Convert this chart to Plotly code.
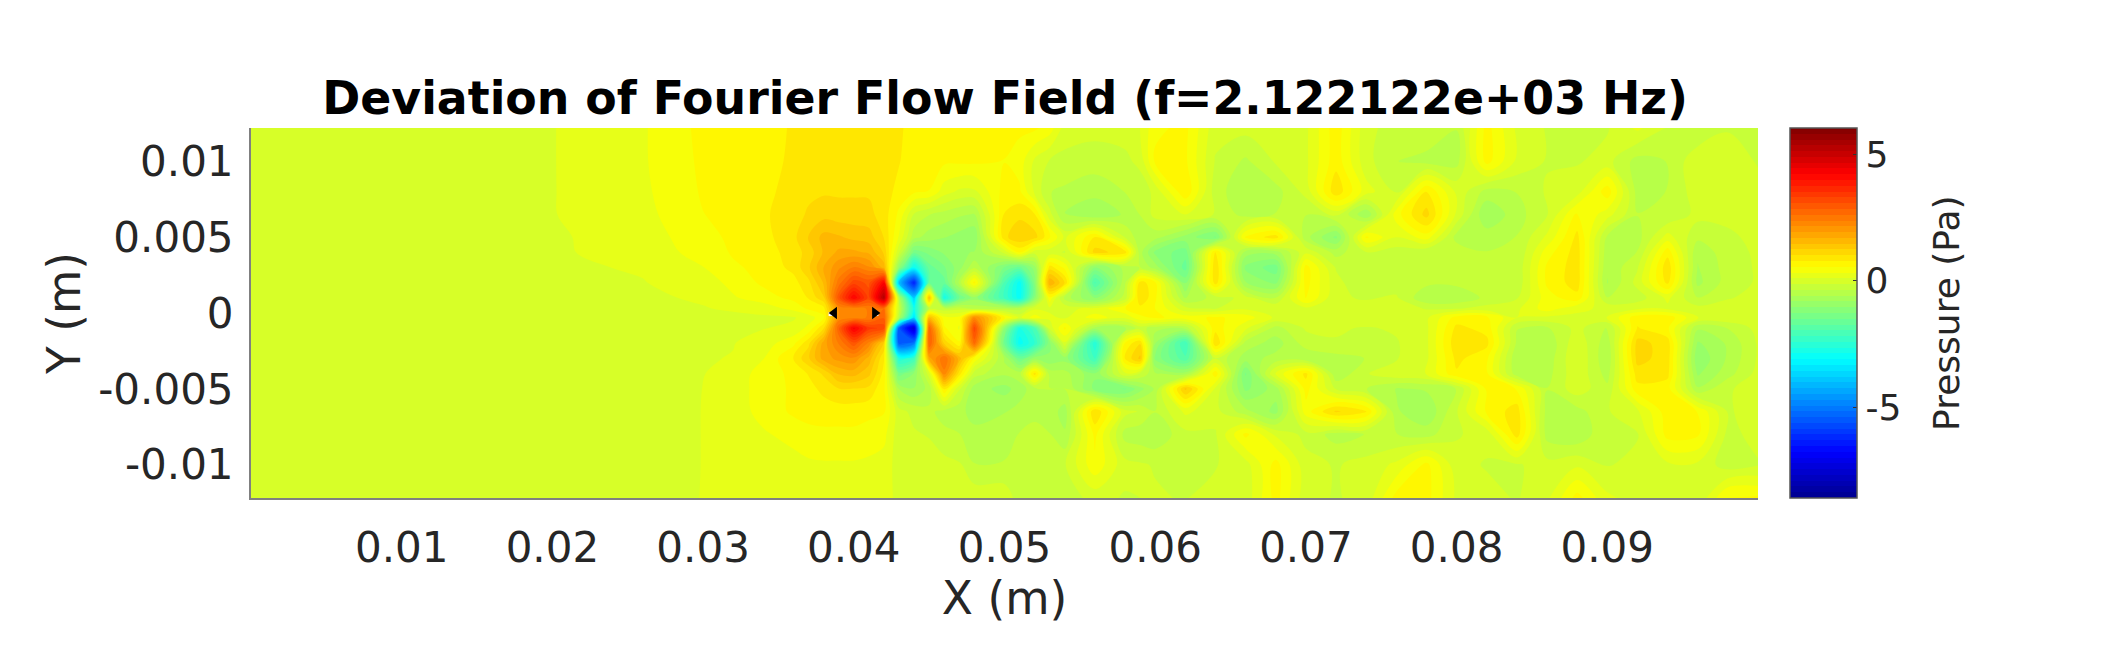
import plotly.graph_objects as go

x_near = [-.0002, .020, .026, .030, .032, .034, .036, .037, .038, .039, .040, .041, .042, .043, .044, .045, .046, .047]
x_mid = [.048, .050, .051, .052, .053, .054, .056, .058, .059, .060, .062]
x_far = [.064, .066, .068, .070, .072, .074, .076, .078, .080, .082, .084, .086, .088, .090, .092, .094, .096, .098, .100]
x_m = x_near + x_mid + x_far
y_m = [.0122, .0100, .0080, .0065, .0050, .0040, .0030, .0020, .0010, .0003,
       -.0003, -.0010, -.0020, -.0030, -.0040, -.0050, -.0065, -.0080, -.0100, -.0122]

row00 = [.05,.09,.3,.62,.62,.65,.82,.9,.9, .9,.9,.9,.9,.85,.62,.62,.62,.6,
         .6,.6,.6,.6,.45,0,-.05,0,.1,.5,.62,
         -.05,-.05,-.05,.05,.7,-.05,-.25,-.15,-.35,.65,.05,-.15,-.25,-.15,.15,-.15,-.35,-.15,-.15]
row01 = [.05,.09,.3,.6,.62,.65,.85,.95,.95, .95,.95,.95,.93,.8,.62,.62,.6,.6,
         .6,.55,.45,.05,-.15,-.2,-.25,-.2,-.05,.6,.6,
         -.15,-.4,-.1,.05,.7,-.05,-.35,-.45,-.45,.65,.05,-.15,-.15,-.05,-.45,-.35,.05,0,-.15]
row02 = [.05,.09,.28,.58,.62,.7,.9,.95,.98, .98,.98,.98,.9,.7,.6,.55,.2,.05,
         .05,.65,.6,.05,-.35,-.4,-.5,-.35,-.3,-.05,.75,
         -.25,-.55,-.45,-.05,.95,.2,-.15,.8,.05,-.45,-.35,-.1,0,.7,-.45,-.35,0,0,-.05]
row03 = [.05,.09,.25,.55,.62,.75,.9,1.05,1.15, 1.1,1.1,1.08,.9,.5,-.15,-.35,-.45,-.55,
         -.6,.8,.95,.8,-.05,-.6,-.8,-.55,-.35,-.05,.1,
         -.15,-.45,-.35,-.35,-.05,-.8,.45,1.1,.05,-.8,-.45,-.15,.6,.2,-.35,-.35,-.05,-.1,-.1]
row04 = [.05,.07,.2,.48,.6,.7,.95,1.25,1.55, 1.5,1.4,1.35,1.0,.3,-.5,-.7,-.8,-.9,
         -1,.95,1.2,1.1,.6,.05,.8,-.15,-.5,-.5,-.9,
         -1.3,.6,.9,-.5,-1.1,.6,.1,.45,-.45,-.45,-.35,.15,.85,-.4,-.45,.2,-.3,-.15,-.1]
row05 = [.05,.07,.18,.42,.58,.65,.9,1.1,1.5, 1.75,1.75,1.65,1.2,-.1,-1.4,-1.2,-1.0,-.85,
         -.8,-.05,.6,-.05,-.05,-.15,1.1,.9,-.5,-1.1,-1.4,
         .8,-.7,-.7,.05,-.45,-.15,-.25,-.35,-.2,-.35,-.35,.45,.9,-.5,-.35,.7,-.55,-.2,-.1]
row06 = [.05,.06,.12,.32,.52,.62,.85,1.2,1.7, 2.1,2.4,2.2,1.6,-1,-3.0,-1.6,-1.3,-.9,
         -.4,-1.3,-1.6,-.9,.9,.5,-1.1,-.5,-.35,-.7,-1.6,
         1.0,-1.1,-1.4,.65,-.15,-.25,-.25,-.25,-.2,-.3,-.3,.6,.9,-.55,-.15,.95,-.6,-.25,-.1]
row07 = [.05,.06,.09,.2,.4,.6,.7,.95,1.5, 2.5,3.2,3.0,4.2,-4,-6.3,-1.6,-1.6,-.5,
         .65,-2,-3,-1.2,1.7,1,-2,-.4,.9,.6,-1.1,
         .9,-.8,-1.1,.65,-.05,-.35,-.25,-.3,-.3,-.35,-.3,.6,.9,-.6,-.05,.85,-.65,-.25,-.1]
row08 = [.05,.05,.07,.12,.3,.45,.62,.8,1.2, 3,4.2,3.2,5.3,-.5,-3.8,1.5,-2.8,-1.5,
         -.9,-2.2,-3,-1.1,.5,-.45,-1.1,-.25,1,.6,-.6,
         -.25,-.05,-.35,.6,-.1,-.15,-.1,-.55,-.55,-.3,-.15,.45,.7,-.35,-.25,.15,-.35,-.15,-.05]
row09 = [.05,.05,.06,.09,.12,.2,.4,.6,.7, 2.2,2.3,2.4,2.6,-.2,-2.8,-.3,-.3,-.2,
         -.45,-.45,-.45,.05,.05,.05,.15,.55,.7,.55,-.05,
         -.15,.05,.05,.05,-.05,-.05,0,-.15,-.15,-.05,.05,.45,.15,.05,.05,.05,-.05,0,0]
row10 = [.05,.05,.05,.06,.06,.06,.08,.2,.5, 2.2,2.3,2.4,2.8,-.5,-3.5,1.5,.4,.4,
         2.2,.6,.05,.45,.15,.05,.45,.15,.5,.6,.45,
         .6,.45,.05,.05,.05,.05,-.05,.05,.65,.6,.1,.05,.05,.1,.7,.7,.1,.05,0]
row11 = [.05,.05,.05,.07,.07,.09,.15,.4,1, 2.8,4.3,3.4,3.2,-5.5,-7.5,2.8,.6,.3,
         3.2,-1,-2.7,-2,-.05,.6,-.7,-.6,-.25,-.5,-.5,
         .7,.15,-.45,-.1,-.1,-.15,-.1,.05,.85,.7,-.35,-.4,-.05,-.4,.8,.6,-.55,-.35,-.05]
row12 = [.05,.05,.05,.07,.09,.2,.5,.95,1.8, 2.4,3.0,2.3,1.2,-5.5,-5.0,2.9,1.2,.6,
         2.7,-1.5,-3,-2.4,-1.1,.05,-2.6,.6,1.0,-.8,-2.2,
         1.0,-.45,-.7,-.25,-.15,-.25,-.15,.05,.95,.85,-.4,-.55,.05,-.5,1.1,.9,-.85,-.55,-.1]
row13 = [.05,.05,.06,.08,.11,.32,.8,1.2,1.8, 2.0,2.1,1.6,.8,-2.6,-2.2,1.8,2.6,1.6,
         .5,-.6,-1.5,-.9,-1,-.9,-2.2,.8,1.3,-1.1,-1.9,
         -.15,-.7,-.5,-.55,-.45,-.35,-.15,.05,.85,.6,-.55,-.5,.1,-.55,1.1,.9,-1.0,-.55,-.1]
row14 = [.05,.05,.06,.09,.2,.42,.62,.8,1.05, 1.5,1.55,1.3,.7,-1.4,-1,0,2.3,.9,
         -.25,-.55,-.45,.9,-.45,-.5,-1,.05,-.15,-.55,-.7,
         .7,-1.3,.15,.85,-.55,-.15,.05,.1,.75,.6,-.5,-.45,.05,-.45,.9,.85,-.85,-.45,-.05]
row15 = [.05,.05,.06,.1,.22,.42,.6,.7,.85, 1.0,1.0,.95,.6,-.6,-.8,-.5,.8,-.1,
         -.7,-.9,-.7,-.45,-.35,-.35,-1.1,-1.3,-.9,-.55,1.3,
         .05,-1.1,-.7,.65,-.15,-.35,-.6,-.55,-.35,.6,.55,-.35,0,-.3,.7,.65,-.55,-.15,-.05]
row16 = [.05,.05,.07,.1,.22,.4,.6,.62,.66, .66,.66,.62,.58,-.05,-.2,-.3,-.45,-.5,
         -.7,-.6,-.5,-.45,-.45,-.7,1.0,-.05,-.15,-.35,.15,
         -.05,-.5,-.9,.45,1.05,.8,-.55,-.8,-.15,.6,.9,-.45,-.45,-.15,.05,.7,.55,-.15,-.05]
row17 = [.05,.05,.07,.1,.2,.3,.4,.5,.5, .5,.5,.45,.4,-.05,-.1,-.15,-.3,-.35,
         -.5,-.4,-.35,-.25,-.35,-.55,.62,-.45,-.5,-.55,-.2,
         -.15,.62,.05,-.2,-.45,-.35,-.35,-.45,-.15,-.05,.9,-.45,-.55,-.15,-.15,.65,.6,-.2,-.05]
row18 = [.05,.05,.07,.1,.18,.22,.25,.28,.3, .3,.3,.28,.22,0,0,0,-.05,-.1,
         -.35,-.35,-.3,-.25,-.2,-.15,.5,-.05,-.1,-.15,-.35,
         -.15,0,.65,-.05,-.15,-.05,.15,.62,-.05,-.15,-.15,-.05,.05,-.15,-.05,.05,.05,-.25,-.15]
row19 = [.05,.05,.08,.1,.14,.18,.2,.22,.22, .2,.2,.2,.2,.03,.03,.03,.03,.03,
         .03,.03,-.25,-.25,-.25,-.25,-.05,-.15,-.13,-.1,-.15,
         .05,-.05,.65,-.05,-.15,-.05,.65,.65,.05,-.05,-.15,.05,.65,.15,0,-.05,-.1,.6,.6]
rows = [row00,row01,row02,row03,row04,row05,row06,row07,row08,row09,
        row10,row11,row12,row13,row14,row15,row16,row17,row18,row19]

marker_x = [.0387, .0414]
marker_y = [0.0, 0.0]
white_x = [.03846, .0415]
white_y = [-.00007, -.00007]

x_ticks = [.01,.02,.03,.04,.05,.06,.07,.08,.09]
x_tick_text = ["0.01","0.02","0.03","0.04","0.05","0.06","0.07","0.08","0.09"]
y_ticks = [-.01,-.005,0,.005,.01]
y_tick_text = ["-0.01","-0.005","0","0.005","0.01"]
cb_ticks = [-5,0,5]
cb_tick_text = ["-5","0","5"]
z_min, z_max = -8.57, 6.03
jet = [[0,"rgb(0,0,143)"],[.125,"rgb(0,0,255)"],[.375,"rgb(0,255,255)"],[.625,"rgb(255,255,0)"],[.875,"rgb(255,0,0)"],[1,"rgb(128,0,0)"]]

FONT = "DejaVu Sans"
fig = go.Figure()
fig.add_trace(go.Contour(
    x=x_m, y=y_m, z=rows, zmin=z_min, zmax=z_max, colorscale=jet,
    contours=dict(coloring="fill", showlines=False, start=z_min, end=z_max, size=(z_max-z_min)/64),
    line=dict(width=0), hoverinfo="skip",
    colorbar=dict(thickness=67, len=1, lenmode="fraction", x=1.0212, xanchor="left", y=0.5, yanchor="middle",
                  xpad=0, ypad=0, outlinecolor="#555555", outlinewidth=1.5,
                  tickvals=cb_ticks, ticktext=cb_tick_text, ticks="inside", ticklen=4, tickcolor="#333333",
                  tickfont=dict(family=FONT, size=36, color="#262626")),
))
fig.add_trace(go.Scatter(x=white_x, y=white_y, mode="markers", showlegend=False, hoverinfo="skip",
                         marker=dict(symbol="square", size=4, color="white")))
fig.add_trace(go.Scatter(x=marker_x, y=marker_y, mode="markers", showlegend=False, hoverinfo="skip",
                         marker=dict(symbol=["triangle-left","triangle-right"], size=11, color="black")))
fig.add_annotation(text="Pressure (Pa)", xref="paper", yref="paper", x=1.1247, y=0.5, textangle=-90,
                   showarrow=False, xanchor="center", yanchor="middle",
                   font=dict(family=FONT, size=36, color="#262626"))
fig.update_layout(
    width=2126, height=650, autosize=False, paper_bgcolor="white", plot_bgcolor="white",
    margin=dict(l=243, r=376, t=120, b=160), showlegend=False,
    title=dict(text="<b>Deviation of Fourier Flow Field (f=2.122122e+03 Hz)</b>", x=0.469, xanchor="center",
               y=1-90/650, yref="container", yanchor="middle", font=dict(family=FONT, size=45.8, color="black")),
    xaxis=dict(range=[0,.1], tickvals=x_ticks, ticktext=x_tick_text, showgrid=False, zeroline=False,
               showline=True, linecolor="#808080", linewidth=2, ticks="", ticklabelstandoff=12,
               tickfont=dict(family=FONT, size=42, color="#262626"),
               title=dict(text="X (m)", standoff=8, font=dict(family=FONT, size=45.5, color="#262626"))),
    yaxis=dict(range=[-.0122,.0122], tickvals=y_ticks, ticktext=y_tick_text, showgrid=False, zeroline=False,
               showline=True, linecolor="#808080", linewidth=2, ticks="", ticklabelstandoff=7,
               tickfont=dict(family=FONT, size=42, color="#262626"),
               title=dict(text="Y (m)", standoff=3, font=dict(family=FONT, size=45.5, color="#262626"))),
)
fig.write_html("out.html")
